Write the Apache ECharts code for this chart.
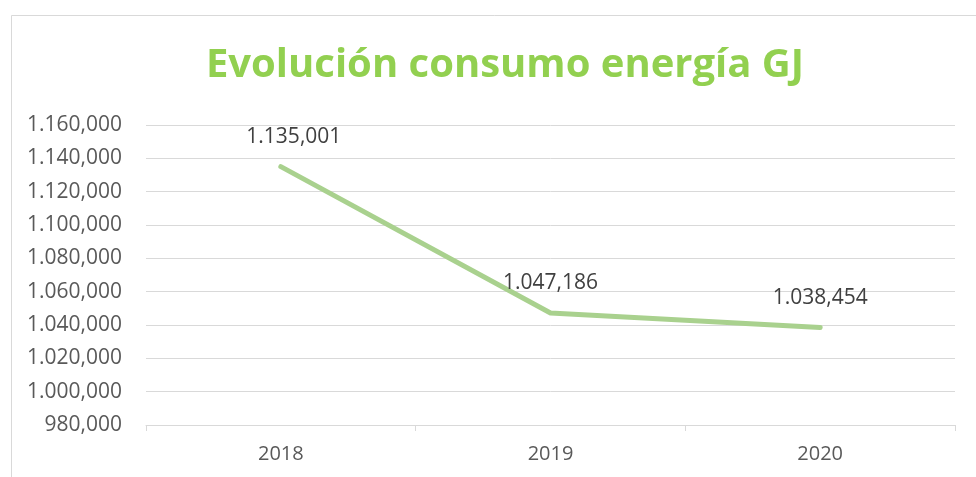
<!DOCTYPE html>
<html><head><meta charset="utf-8">
<script src="https://cdn.jsdelivr.net/npm/echarts@6/dist/echarts.min.js"></script>
<style>html,body{margin:0;padding:0;background:#fff}#c{width:976px;height:477px}</style>
</head><body><div id="c"></div>
<script>
const titleText = 'Evolución consumo energía GJ';
const categories = ['2018', '2019', '2020'];
const consumo = [1135.001, 1047.186, 1038.454];
const yMin = 980, yMax = 1160, yStep = 20;

function fmt(v) {
  const s = Number(v).toFixed(3);
  let [ip, dp] = s.split('.');
  ip = ip.replace(/\B(?=(\d{3})+(?!\d))/g, '.');
  return ip + ',' + dp;
}

const chart = echarts.init(document.getElementById('c'));
chart.setOption({
  animation: false,
  backgroundColor: '#fff',
  graphic: [{
    type: 'rect', left: 9, top: 13,
    shape: { width: 1000, height: 500 },
    style: { fill: 'none', stroke: '#d9d9d9', lineWidth: 1 },
    silent: true, z: -1
  }],
  title: {
    text: titleText, left: 500, top: 41, textAlign: 'center',
    textStyle: { fontFamily: 'Open Sans', fontWeight: 'bold', fontSize: 40, color: '#92d050' }
  },
  grid: { left: 146, right: 21, top: 125, bottom: 52 },
  xAxis: {
    type: 'category', data: categories, boundaryGap: true,
    axisLine: { lineStyle: { color: '#d9d9d9', width: 1 } },
    axisTick: { show: true, length: 6, lineStyle: { color: '#d9d9d9' } },
    axisLabel: { color: '#595959', fontSize: 20, fontFamily: 'Open Sans', margin: 19 }
  },
  yAxis: {
    type: 'value', min: yMin, max: yMax, interval: yStep,
    axisLine: { show: false }, axisTick: { show: false },
    splitLine: { lineStyle: { color: '#d9d9d9', width: 1 } },
    axisLabel: { color: '#595959', fontSize: 21, fontFamily: 'Open Sans', margin: 24, formatter: fmt }
  },
  series: [{
    type: 'line',
    data: consumo.map((v, i) => i === 0 ? { value: v, label: { offset: [13, 0] } } : v),
    symbol: 'circle', symbolSize: 1,
    itemStyle: { color: '#a9d18e' },
    lineStyle: { color: '#a9d18e', width: 5, cap: 'round', join: 'round' },
    label: {
      show: true, position: 'top', distance: 19,
      color: '#404040', fontSize: 21, fontFamily: 'Open Sans',
      formatter: p => fmt(p.value)
    }
  }]
});
</script></body></html>
